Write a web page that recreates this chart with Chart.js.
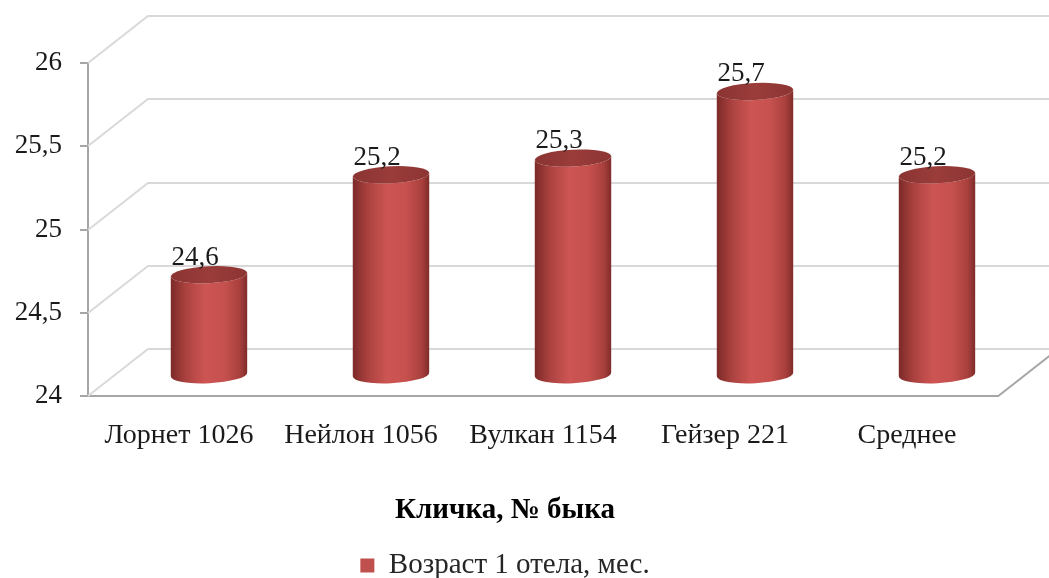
<!DOCTYPE html>
<html>
<head>
<meta charset="utf-8">
<script src="https://cdn.jsdelivr.net/npm/chart.js@4"></script>
<style>
body { margin: 0; background: #fff; }
</style>
</head>
<body>
<canvas id="myChart" width="1049" height="578"></canvas>
<script>
// data
var bulls = ["Лорнет 1026", "Нейлон 1056", "Вулкан 1154", "Гейзер 221", "Среднее"];
var calvingAge = [24.6, 25.2, 25.3, 25.7, 25.2];
var seriesName = "Возраст 1 отела, мес.";
var axisTitle = "Кличка, № быка";
var yTicks = [24, 24.5, 25, 25.5, 26];

var FONT = "'Liberation Serif', 'Times New Roman', serif";
var DX = 60, DY = -47; // depth of the 3d box

function comma(v) { return String(v).replace('.', ','); }

// draws back walls, floor and the cylinders instead of flat bars
const cylinders = {
  id: 'cylinders',
  beforeDatasetsDraw(chart) {
    const ctx = chart.ctx;
    const a = chart.chartArea;
    const y = chart.scales.y;
    ctx.save();
    ctx.lineWidth = 2;
    ctx.strokeStyle = '#d9d9d9';
    yTicks.forEach(function (v) {
      const fy = Math.round(y.getPixelForValue(v));
      ctx.beginPath();
      ctx.moveTo(a.left, fy);
      ctx.lineTo(a.left + DX, fy + DY);
      ctx.lineTo(a.right + DX, fy + DY);
      ctx.stroke();
    });
    ctx.strokeStyle = '#a6a6a6';
    ctx.beginPath();
    ctx.moveTo(a.right, a.bottom);
    ctx.lineTo(a.right + DX, a.bottom + DY);
    ctx.stroke();

    const meta = chart.getDatasetMeta(0);
    const basePx = y.getPixelForValue(y.min);
    meta.data.forEach(function (bar, i) {
      const rx = bar.width / 2, ry = 8.5, rot = -0.05;
      const cx = bar.x + DX / 2;
      const top = bar.y + DY / 2 + 2;
      const bot = basePx + DY / 2 + 2;
      const g = ctx.createLinearGradient(cx - rx, 0, cx + rx, 0);
      g.addColorStop(0, '#7c2a28');
      g.addColorStop(0.2, '#ab423f');
      g.addColorStop(0.45, '#cd5553');
      g.addColorStop(0.7, '#c6514e');
      g.addColorStop(0.9, '#a9403d');
      g.addColorStop(1, '#7f2c2a');
      ctx.fillStyle = g;
      ctx.beginPath();
      ctx.moveTo(cx - rx, top);
      ctx.lineTo(cx - rx, bot);
      ctx.ellipse(cx, bot, rx, ry, rot, Math.PI, 0, true);
      ctx.lineTo(cx + rx, top);
      ctx.ellipse(cx, top, rx, ry, rot, 0, Math.PI, false);
      ctx.closePath();
      ctx.fill();
      const tg = ctx.createLinearGradient(cx - rx, 0, cx + rx, 0);
      tg.addColorStop(0, '#8a3432');
      tg.addColorStop(0.5, '#9a3c3a');
      tg.addColorStop(1, '#8c3533');
      ctx.fillStyle = tg;
      ctx.beginPath();
      ctx.ellipse(cx, top, rx, ry, rot, 0, Math.PI * 2);
      ctx.fill();

      ctx.fillStyle = '#1a1a1a';
      ctx.font = '27px ' + FONT;
      ctx.textAlign = 'center';
      ctx.textBaseline = 'alphabetic';
      ctx.fillText(comma(calvingAge[i]), cx - 14, top - 10);
    });
    ctx.restore();
    return false;
  }
};

const ctx = document.getElementById('myChart');
new Chart(ctx, {
  type: 'bar',
  data: {
    labels: bulls,
    datasets: [{
      label: seriesName,
      data: calvingAge,
      backgroundColor: '#c0504d',
      categoryPercentage: 1,
      barPercentage: 0.42
    }]
  },
  options: {
    responsive: false,
    animation: false,
    layout: { padding: { left: 12, right: 51, top: 63, bottom: -12 } },
    plugins: {
      tooltip: { enabled: false },
      title: {
        display: true,
        position: 'bottom',
        weight: 500,
        text: axisTitle,
        color: '#000',
        padding: { top: 0, bottom: 13 },
        font: { family: FONT, size: 29, weight: 'bold' }
      },
      legend: {
        position: 'bottom',
        labels: {
          boxWidth: 14,
          boxHeight: 14,
          padding: 10,
          color: '#262626',
          font: { family: FONT, size: 29 }
        }
      }
    },
    scales: {
      x: {
        grid: { display: false },
        border: { display: true, color: '#a6a6a6', width: 2 },
        ticks: { color: '#1a1a1a', padding: 15, font: { family: FONT, size: 28 } },
        afterFit: function (s) { s.height = 97; }
      },
      y: {
        min: 24,
        max: 26,
        grid: { drawOnChartArea: false, drawTicks: true, tickLength: 8, color: '#a6a6a6', lineWidth: 2 },
        border: { display: true, color: '#a6a6a6', width: 2 },
        ticks: {
          stepSize: 0.5,
          padding: 18,
          color: '#1a1a1a',
          font: { family: FONT, size: 27 },
          callback: function (v) { return comma(v); }
        },
        afterFit: function (s) { s.width = 76; }
      }
    }
  },
  plugins: [cylinders]
});
</script>
</body>
</html>
